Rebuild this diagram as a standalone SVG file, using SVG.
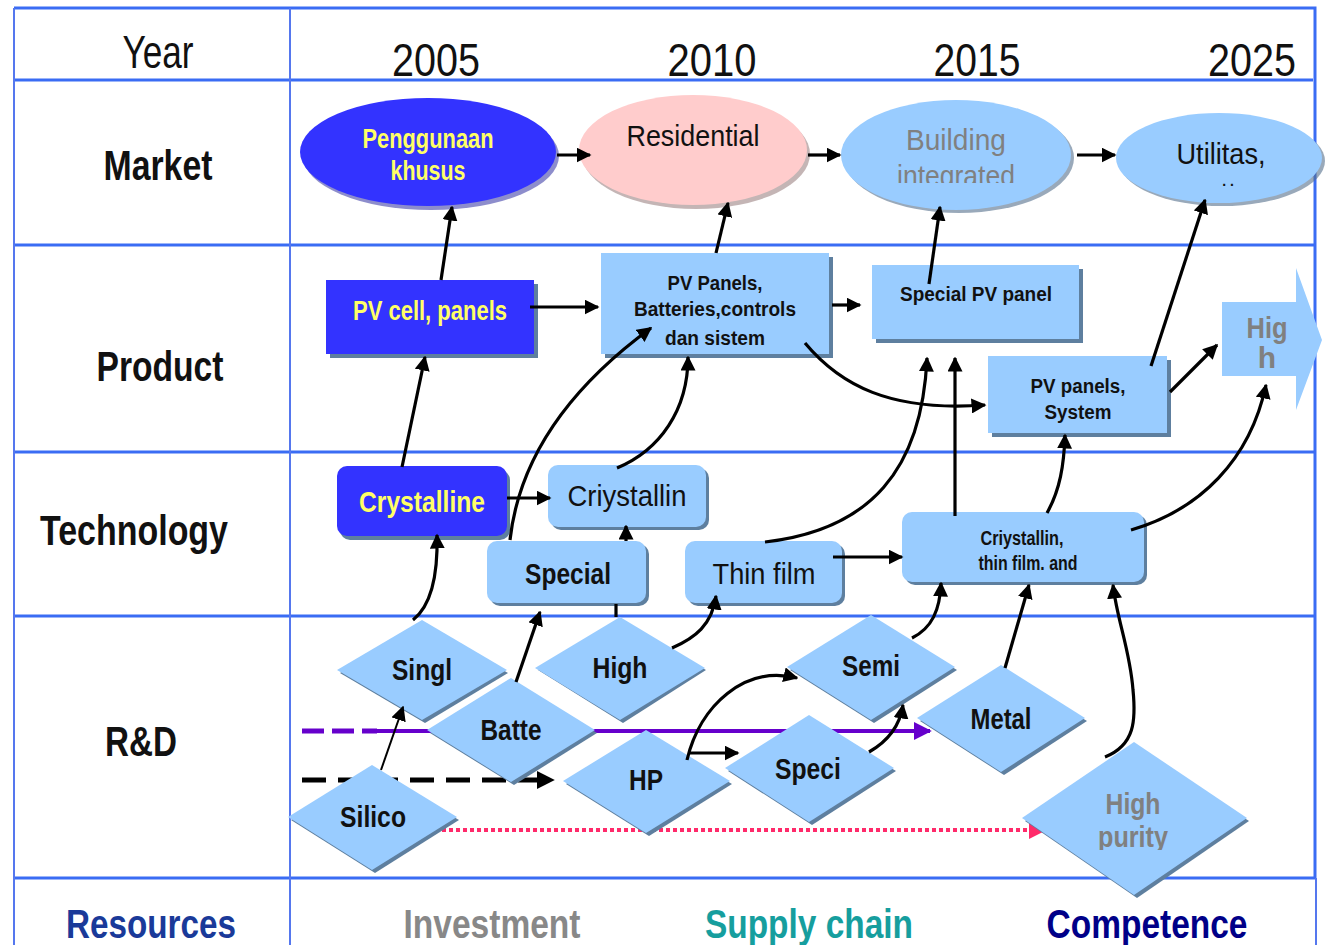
<svg xmlns="http://www.w3.org/2000/svg" width="1327" height="945" viewBox="0 0 1327 945">
<style>
text{font-family:"Liberation Sans",Arial,sans-serif;text-anchor:middle}
.grid{stroke:#3a6cf4;stroke-width:3;fill:none}
.vgrid{stroke:#5577ee;stroke-width:2;fill:none}
.hdr{font-size:46px;fill:#111}
.row{font-size:42px;font-weight:bold;fill:#111}
.foot{font-size:40px;font-weight:bold}
.dk{fill:#3333ff}
.lt{fill:#99ccff}
.sh{fill:#5e7f9f}
.ylw{fill:#ffff66;font-weight:bold}
.blk{fill:#111}
.b{font-weight:bold}
.gry{fill:#808080}
.conn{stroke:#000;stroke-width:3.2;fill:none}
.t30{font-size:30px}
.t26{font-size:27px}
.t20{font-size:20px}
</style>
<defs>
<marker id="ah" viewBox="0 0 10 10" refX="9" refY="5" markerWidth="15" markerHeight="15" markerUnits="userSpaceOnUse" orient="auto"><path d="M0,0 L10,5 L0,10 z" fill="#000"/></marker>
<marker id="ahp" viewBox="0 0 10 10" refX="9" refY="5" markerWidth="18" markerHeight="18" markerUnits="userSpaceOnUse" orient="auto"><path d="M0,0 L10,5 L0,10 z" fill="#6600cc"/></marker>
<marker id="ahk" viewBox="0 0 10 10" refX="9" refY="5" markerWidth="18" markerHeight="18" markerUnits="userSpaceOnUse" orient="auto"><path d="M0,0 L10,5 L0,10 z" fill="#000"/></marker>
<marker id="ahr" viewBox="0 0 10 10" refX="9" refY="5" markerWidth="18" markerHeight="18" markerUnits="userSpaceOnUse" orient="auto"><path d="M0,0 L10,5 L0,10 z" fill="#ff2a6a"/></marker>
<clipPath id="cBld"><rect x="880" y="100" width="160" height="83"/></clipPath>
<clipPath id="cHp"><rect x="1060" y="770" width="150" height="80"/></clipPath>
</defs>
<rect x="0" y="0" width="1327" height="945" fill="#ffffff"/>

<g id="grid">
<path class="grid" d="M14 8 H1315 V878 M14 80 H1313 M14 245 H1315 M14 452 H1315 M14 616 H1315 M14 878 H1315"/>
<path class="vgrid" d="M14 8 V945 M290 8 V945 M1316 878 V945"/>
</g>

<g id="labels">
<text class="hdr" x="158" y="68" textLength="71" lengthAdjust="spacingAndGlyphs">Year</text>
<text class="hdr" x="436" y="76" textLength="88" lengthAdjust="spacingAndGlyphs">2005</text>
<text class="hdr" x="712" y="76" textLength="89" lengthAdjust="spacingAndGlyphs">2010</text>
<text class="hdr" x="977" y="76" textLength="87" lengthAdjust="spacingAndGlyphs">2015</text>
<text class="hdr" x="1252" y="76" textLength="88" lengthAdjust="spacingAndGlyphs">2025</text>
<text class="row" x="158" y="180" textLength="109" lengthAdjust="spacingAndGlyphs">Market</text>
<text class="row" x="160" y="381" textLength="127" lengthAdjust="spacingAndGlyphs">Product</text>
<text class="row" x="134" y="545" textLength="188" lengthAdjust="spacingAndGlyphs">Technology</text>
<text class="row" x="141" y="756" textLength="72" lengthAdjust="spacingAndGlyphs">R&amp;D</text>
<text class="foot" x="151" y="938" fill="#1a3a99" textLength="170" lengthAdjust="spacingAndGlyphs">Resources</text>
<text class="foot" x="492" y="938" fill="#888888" textLength="177" lengthAdjust="spacingAndGlyphs">Investment</text>
<text class="foot" x="809" y="938" fill="#169e9e" textLength="208" lengthAdjust="spacingAndGlyphs">Supply chain</text>
<text class="foot" x="1147" y="938" fill="#000088" textLength="201" lengthAdjust="spacingAndGlyphs">Competence</text>
</g>

<g id="flows">
<path d="M302 731 H377" stroke="#6600cc" stroke-width="5" stroke-dasharray="22 8" fill="none"/>
<path d="M377 731 H930" stroke="#6600cc" stroke-width="4" fill="none" marker-end="url(#ahp)"/>
<path d="M302 780 H553" stroke="#000" stroke-width="5" stroke-dasharray="24 12" fill="none" marker-end="url(#ahk)"/>
<path d="M442 830 H1045" stroke="#ff2a6a" stroke-width="4" stroke-dasharray="4 3" fill="none" marker-end="url(#ahr)"/>
</g>

<g id="m-penggunaan">
<ellipse cx="431" cy="156" rx="128" ry="54" fill="#1c1c9a" opacity="0.5"/>
<ellipse class="dk" cx="428" cy="152" rx="128" ry="54"/>
<text class="ylw t26" x="428" y="148" textLength="131" lengthAdjust="spacingAndGlyphs">Penggunaan</text>
<text class="ylw t26" x="428" y="180" textLength="75" lengthAdjust="spacingAndGlyphs">khusus</text>
</g>
<g id="m-residential">
<ellipse cx="696" cy="154" rx="114" ry="55" fill="#8a6b6b" opacity="0.5"/>
<ellipse cx="693" cy="150" rx="114" ry="55" fill="#ffcccc"/>
<text class="blk t30" x="693" y="146" textLength="133" lengthAdjust="spacingAndGlyphs">Residential</text>
</g>
<g id="m-building">
<ellipse cx="959" cy="158" rx="115" ry="55" fill="#55708c" opacity="0.6"/>
<ellipse class="lt" cx="956" cy="155" rx="115" ry="55"/>
<text class="gry t30" x="956" y="150" textLength="100" lengthAdjust="spacingAndGlyphs">Building</text>
<text class="gry t30" x="956" y="186" textLength="118" lengthAdjust="spacingAndGlyphs" clip-path="url(#cBld)">integrated</text>
</g>
<g id="m-utilitas">
<ellipse cx="1222" cy="161" rx="103" ry="45" fill="#55708c" opacity="0.6"/>
<ellipse class="lt" cx="1219" cy="158" rx="103" ry="45"/>
<text class="blk t30" x="1221" y="164" textLength="89" lengthAdjust="spacingAndGlyphs">Utilitas,</text>
<text class="blk b" x="1228" y="186" font-size="14">. .</text>
</g>

<g id="p-pvcell">
<rect class="sh" x="330" y="284" width="208" height="74"/>
<rect class="dk" x="326" y="280" width="208" height="74"/>
<text class="ylw t26" x="430" y="320" textLength="154" lengthAdjust="spacingAndGlyphs">PV cell, panels</text>
</g>
<g id="p-pvpanels">
<rect class="sh" x="605" y="257" width="228" height="101"/>
<rect class="lt" x="601" y="253" width="228" height="101"/>
<text class="blk b t20" x="715" y="290" textLength="95" lengthAdjust="spacingAndGlyphs">PV Panels,</text>
<text class="blk b t20" x="715" y="316" textLength="162" lengthAdjust="spacingAndGlyphs">Batteries,controls</text>
<text class="blk b t20" x="715" y="345" textLength="100" lengthAdjust="spacingAndGlyphs">dan sistem</text>
</g>
<g id="p-specialpv">
<rect class="sh" x="876" y="269" width="207" height="74"/>
<rect class="lt" x="872" y="265" width="207" height="74"/>
<text class="blk b t20" x="976" y="301" textLength="152" lengthAdjust="spacingAndGlyphs">Special PV panel</text>
</g>
<g id="p-pvsystem">
<rect class="sh" x="992" y="360" width="179" height="77"/>
<rect class="lt" x="988" y="356" width="179" height="77"/>
<text class="blk b t20" x="1078" y="393" textLength="95" lengthAdjust="spacingAndGlyphs">PV panels,</text>
<text class="blk b t20" x="1078" y="419" textLength="67" lengthAdjust="spacingAndGlyphs">System</text>
</g>
<g id="p-high">
<path class="lt" d="M1222 302 H1296 V268 L1322 340 L1296 410 V376 H1222 Z"/>
<text class="gry b t30" x="1267" y="338" textLength="41" lengthAdjust="spacingAndGlyphs">Hig</text>
<text class="gry b t30" x="1267" y="368">h</text>
</g>

<g id="t-crystalline">
<rect class="sh" x="340" y="470" width="170" height="70" rx="10"/>
<rect class="dk" x="337" y="466" width="170" height="70" rx="10"/>
<text class="ylw t30" x="422" y="512" textLength="126" lengthAdjust="spacingAndGlyphs">Crystalline</text>
</g>
<g id="t-criystallin">
<rect class="sh" x="551" y="468" width="158" height="62" rx="10"/>
<rect class="lt" x="548" y="465" width="158" height="62" rx="10"/>
<text class="blk t30" x="627" y="506" textLength="119" lengthAdjust="spacingAndGlyphs">Criystallin</text>
</g>
<g id="t-special">
<rect class="sh" x="490" y="544" width="159" height="62" rx="10"/>
<rect class="lt" x="487" y="541" width="159" height="62" rx="10"/>
<text class="blk b t30" x="568" y="584" textLength="86" lengthAdjust="spacingAndGlyphs">Special</text>
</g>
<g id="t-thinfilm">
<rect class="sh" x="688" y="544" width="157" height="62" rx="10"/>
<rect class="lt" x="685" y="541" width="157" height="62" rx="10"/>
<text class="blk t30" x="764" y="584" textLength="103" lengthAdjust="spacingAndGlyphs">Thin film</text>
</g>
<g id="t-mixed">
<rect class="sh" x="905" y="515" width="242" height="70" rx="10"/>
<rect class="lt" x="902" y="512" width="242" height="70" rx="10"/>
<text class="blk b t20" x="1022" y="545" textLength="83" lengthAdjust="spacingAndGlyphs">Criystallin,</text>
<text class="blk b t20" x="1028" y="570" textLength="99" lengthAdjust="spacingAndGlyphs">thin film. and</text>
</g>

<g id="r-singl">
<polygon class="sh" points="422,623 508,673 425,723 340,673"/>
<polygon class="lt" points="422,620 507,670 422,720 337,670"/>
<text class="blk b t30" x="422" y="680" textLength="60" lengthAdjust="spacingAndGlyphs">Singl</text>
</g>
<g id="r-high">
<polygon class="sh" points="620,620 706,670 623,723 538,670"/>
<polygon class="lt" points="620,617 705,668 620,720 535,668"/>
<text class="blk b t30" x="620" y="678" textLength="55" lengthAdjust="spacingAndGlyphs">High</text>
</g>
<g id="r-semi">
<polygon class="sh" points="871,618 957,670 874,723 790,670"/>
<polygon class="lt" points="871,615 955,667 871,720 787,667"/>
<text class="blk b t30" x="871" y="676" textLength="58" lengthAdjust="spacingAndGlyphs">Semi</text>
</g>
<g id="r-batte">
<polygon class="sh" points="511,681 597,733 514,785 430,733"/>
<polygon class="lt" points="511,678 595,730 511,782 427,730"/>
<text class="blk b t30" x="511" y="740" textLength="61" lengthAdjust="spacingAndGlyphs">Batte</text>
</g>
<g id="r-metal">
<polygon class="sh" points="1001,669 1087,721 1004,775 920,721"/>
<polygon class="lt" points="1001,665 1085,718 1001,772 917,718"/>
<text class="blk b t30" x="1001" y="729" textLength="61" lengthAdjust="spacingAndGlyphs">Metal</text>
</g>
<g id="r-hp">
<polygon class="sh" points="646,733 732,784 649,836 566,784"/>
<polygon class="lt" points="646,730 730,781 646,833 563,781"/>
<text class="blk b t30" x="646" y="790" textLength="34" lengthAdjust="spacingAndGlyphs">HP</text>
</g>
<g id="r-speci">
<polygon class="sh" points="809,718 896,771 812,825 728,771"/>
<polygon class="lt" points="809,715 894,768 809,822 725,768"/>
<text class="blk b t30" x="808" y="779" textLength="66" lengthAdjust="spacingAndGlyphs">Speci</text>
</g>
<g id="r-silico">
<polygon class="sh" points="372,768 459,820 375,873 291,820"/>
<polygon class="lt" points="372,765 457,817 372,870 288,817"/>
<text class="blk b t30" x="373" y="827" textLength="66" lengthAdjust="spacingAndGlyphs">Silico</text>
</g>
<g id="r-highpurity">
<polygon class="sh" points="1134,745 1249,821 1137,898 1025,821"/>
<polygon class="lt" points="1134,742 1247,818 1134,895 1022,818"/>
<text class="gry b t30" x="1133" y="814" textLength="55" lengthAdjust="spacingAndGlyphs">High</text>
<text class="gry b t30" x="1133" y="847" textLength="70" lengthAdjust="spacingAndGlyphs" clip-path="url(#cHp)">purity</text>
</g>

<g id="connectors">
<path class="conn" d="M557 155 H590" marker-end="url(#ah)"/>
<path class="conn" d="M808 155 H840" marker-end="url(#ah)"/>
<path class="conn" d="M1077 155 H1115" marker-end="url(#ah)"/>
<path class="conn" d="M441 280 L452 207" marker-end="url(#ah)"/>
<path class="conn" d="M716 253 L728 203" marker-end="url(#ah)"/>
<path class="conn" d="M929 284 L940 207" marker-end="url(#ah)"/>
<path class="conn" d="M1151 366 L1205 200" marker-end="url(#ah)"/>
<path class="conn" d="M530 307 H598" marker-end="url(#ah)"/>
<path class="conn" d="M832 305 H860" marker-end="url(#ah)"/>
<path class="conn" d="M805 343 C840 385 890 412 985 405" marker-end="url(#ah)"/>
<path class="conn" d="M1170 392 L1217 345" marker-end="url(#ah)"/>
<path class="conn" d="M402 467 L425 357" marker-end="url(#ah)"/>
<path class="conn" d="M507 498 H550" marker-end="url(#ah)"/>
<path class="conn" d="M617 468 C660 450 688 410 688 357" marker-end="url(#ah)"/>
<path class="conn" d="M510 540 C520 450 580 380 651 328" marker-end="url(#ah)"/>
<path class="conn" d="M626 541 V526" marker-end="url(#ah)"/>
<path class="conn" d="M616 617 V604"/>
<path class="conn" d="M765 542 C870 530 922 470 927 358" marker-end="url(#ah)"/>
<path class="conn" d="M955 516 V358" marker-end="url(#ah)"/>
<path class="conn" d="M833 557 H902" marker-end="url(#ah)"/>
<path class="conn" d="M1047 513 C1060 490 1064 465 1065 435" marker-end="url(#ah)"/>
<path class="conn" d="M1131 530 C1200 510 1250 460 1266 385" marker-end="url(#ah)"/>
<path class="conn" d="M413 620 C432 605 438 575 437 535" marker-end="url(#ah)"/>
<path class="conn" d="M516 682 L540 612" marker-end="url(#ah)"/>
<path class="conn" d="M672 648 C695 638 712 625 716 596" marker-end="url(#ah)"/>
<path class="conn" d="M687 760 C700 705 745 665 797 678" marker-end="url(#ah)"/>
<path class="conn" d="M690 753 H738" marker-end="url(#ah)"/>
<path class="conn" d="M869 752 C890 740 900 725 903 705" marker-end="url(#ah)"/>
<path class="conn" d="M912 638 C932 628 940 610 941 583" marker-end="url(#ah)"/>
<path class="conn" d="M1005 668 L1029 585" marker-end="url(#ah)"/>
<path class="conn" d="M1105 757 C1135 745 1136 720 1133 690 C1130 650 1117 620 1113 585" marker-end="url(#ah)"/>
<path d="M381 770 L403 707" stroke="#000" stroke-width="2" fill="none" marker-end="url(#ah)"/>
</g>
</svg>
